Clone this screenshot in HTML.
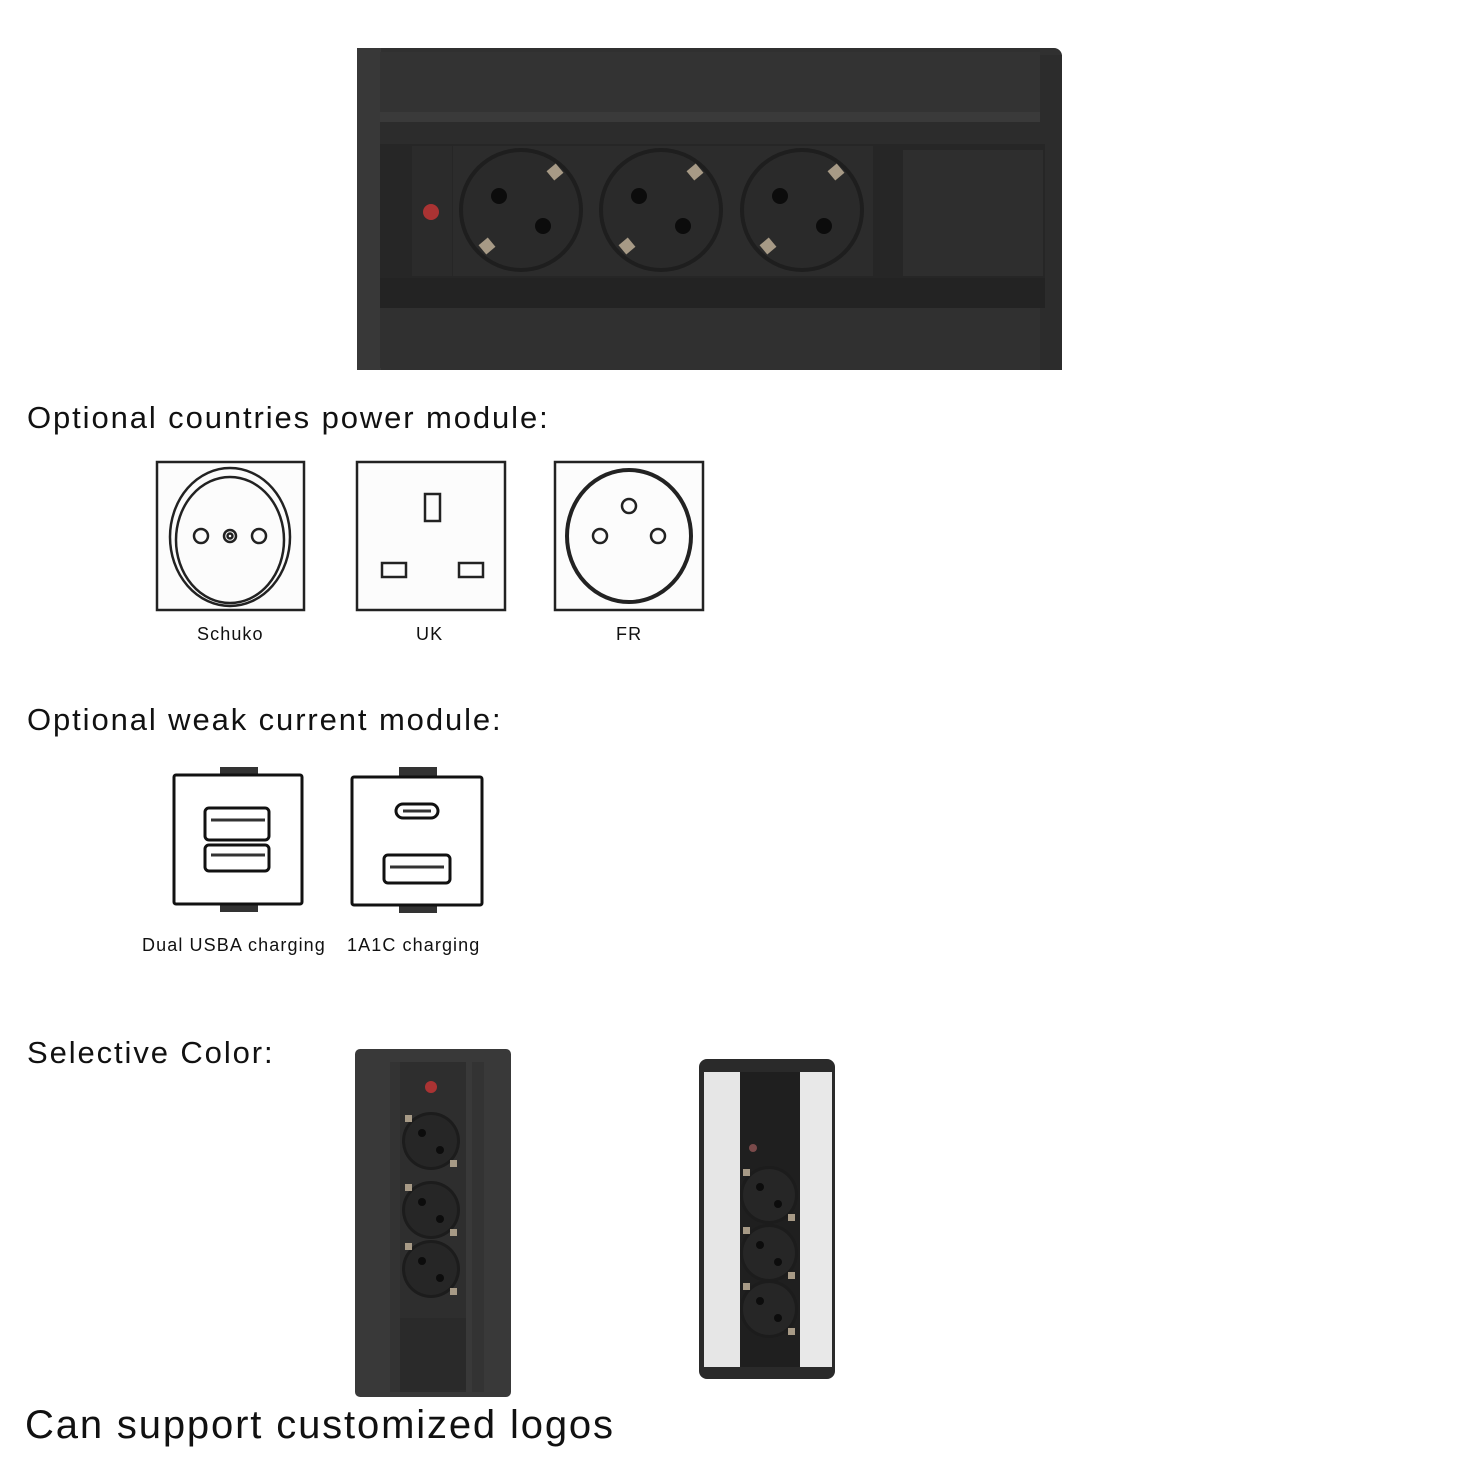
<!DOCTYPE html>
<html><head><meta charset="utf-8"><style>
body{margin:0;background:#fff;width:1480px;height:1480px;position:relative;overflow:hidden;font-family:"Liberation Sans",Arial,sans-serif;color:#111}
.t{position:absolute;white-space:nowrap}
.h{font-size:31px;letter-spacing:1.9px}
.l{font-size:18px;letter-spacing:1.1px}
svg{position:absolute;left:0;top:0}
</style></head><body>
<svg width="1480" height="1480" viewBox="0 0 1480 1480">
<defs>
<g id="sk">
<circle r="62" fill="#1e1e1e"/>
<circle r="58" fill="#2a2a2a"/>
<circle cx="-22" cy="-14" r="8" fill="#0c0c0c"/>
<circle cx="22" cy="16" r="8" fill="#0c0c0c"/>
<rect x="28" y="-44" width="12" height="12" fill="#a79a86" transform="rotate(-40 34 -38)"/>
<rect x="-40" y="30" width="12" height="12" fill="#a79a86" transform="rotate(-40 -34 36)"/>
</g>
<g id="sks">
<circle r="29" fill="#1c1c1c"/>
<circle r="26" fill="#262626"/>
<circle cx="-9" cy="-8" r="4" fill="#0c0c0c"/>
<circle cx="9" cy="9" r="4" fill="#0c0c0c"/>
<rect x="-26" y="-26" width="7" height="7" fill="#a79a86"/>
<rect x="19" y="19" width="7" height="7" fill="#a79a86"/>
</g>
</defs>
<rect x="357" y="48" width="705" height="322" rx="8" fill="#303030"/>
<rect x="357" y="48" width="24" height="322" fill="#383838"/>
<rect x="1040" y="55" width="22" height="315" fill="#2c2c2c"/>
<rect x="380" y="52" width="660" height="60" fill="#333"/>
<rect x="380" y="112" width="660" height="10" fill="#3a3a3a"/>
<rect x="380" y="122" width="660" height="22" fill="#2c2c2c"/>
<rect x="380" y="144" width="665" height="134" fill="#262626"/>
<rect x="412" y="146" width="40" height="130" fill="#2b2b2b"/>
<rect x="453" y="146" width="420" height="130" fill="#2c2c2c"/>
<rect x="903" y="150" width="140" height="126" fill="#2e2e2e"/>
<rect x="380" y="278" width="665" height="30" fill="#232323"/>
<rect x="380" y="308" width="660" height="60" fill="#303030"/>
<circle cx="431" cy="212" r="8" fill="#a33"/>
<use href="#sk" x="521" y="210"/><use href="#sk" x="661" y="210"/><use href="#sk" x="802" y="210"/>
<g fill="none" stroke="#222" stroke-width="2.5">
<rect x="157" y="462" width="147" height="148" fill="#fcfcfc"/>
<ellipse cx="230" cy="537" rx="60" ry="69"/>
<ellipse cx="230" cy="540" rx="54" ry="63"/>
<circle cx="201" cy="536" r="7"/><circle cx="230" cy="536" r="6"/><circle cx="230" cy="536" r="2.5"/><circle cx="259" cy="536" r="7"/>
<rect x="357" y="462" width="148" height="148" fill="#fcfcfc"/>
<rect x="425" y="494" width="15" height="27"/>
<rect x="382" y="563" width="24" height="14"/><rect x="459" y="563" width="24" height="14"/>
<rect x="555" y="462" width="148" height="148" fill="#fcfcfc"/>
<ellipse cx="629" cy="536" rx="62" ry="66" stroke-width="4"/>
<circle cx="629" cy="506" r="7"/><circle cx="600" cy="536" r="7"/><circle cx="658" cy="536" r="7"/>
</g>
<rect x="220" y="767" width="38" height="9" fill="#333"/><rect x="220" y="903" width="38" height="9" fill="#333"/>
<rect x="399" y="767" width="38" height="9" fill="#333"/><rect x="399" y="904" width="38" height="9" fill="#333"/>
<g fill="#fff" stroke="#111" stroke-width="3">
<rect x="174" y="775" width="128" height="129" rx="2"/>
<rect x="205" y="808" width="64" height="32" rx="4"/>
<rect x="205" y="845" width="64" height="26" rx="4"/>
<rect x="352" y="777" width="130" height="128" rx="2"/>
<rect x="396" y="804" width="42" height="14" rx="7"/>
<rect x="384" y="855" width="66" height="28" rx="4"/>
</g>
<g stroke="#333" stroke-width="3"><line x1="211" y1="820" x2="265" y2="820"/><line x1="211" y1="855" x2="265" y2="855"/><line x1="403" y1="811" x2="431" y2="811"/><line x1="390" y1="867" x2="444" y2="867"/></g>
<rect x="355" y="1049" width="156" height="348" rx="5" fill="#393939"/>
<rect x="390" y="1062" width="12" height="330" fill="#333"/>
<rect x="472" y="1062" width="12" height="330" fill="#333"/>
<rect x="400" y="1062" width="66" height="330" fill="#2e2e2e"/>
<circle cx="431" cy="1087" r="6" fill="#a33"/>
<use href="#sks" x="431" y="1141"/><use href="#sks" x="431" y="1210"/><use href="#sks" x="431" y="1269"/>
<rect x="400" y="1318" width="66" height="72" fill="#2a2a2a"/>
<rect x="699" y="1059" width="136" height="320" rx="8" fill="#2a2a2a"/>
<rect x="704" y="1072" width="36" height="295" fill="#e6e6e6"/>
<rect x="800" y="1072" width="32" height="295" fill="#e8e8e8"/>
<rect x="740" y="1072" width="60" height="295" fill="#1f1f1f"/>
<circle cx="753" cy="1148" r="4" fill="#7a4a4a"/>
<use href="#sks" x="769" y="1195"/><use href="#sks" x="769" y="1253"/><use href="#sks" x="769" y="1309"/>
</svg>
<div class="t h" style="left:27px;top:400px">Optional countries power module:</div>
<div class="t l" style="left:197px;top:624px">Schuko</div>
<div class="t l" style="left:416px;top:624px">UK</div>
<div class="t l" style="left:616px;top:624px">FR</div>
<div class="t h" style="left:27px;top:702px">Optional weak current module:</div>
<div class="t l" style="left:142px;top:935px">Dual USBA charging</div>
<div class="t l" style="left:347px;top:935px">1A1C charging</div>
<div class="t h" style="left:27px;top:1035px">Selective Color:</div>
<div class="t" style="left:25px;top:1403px;font-size:40px;letter-spacing:1.85px">Can support customized logos</div>
</body></html>
